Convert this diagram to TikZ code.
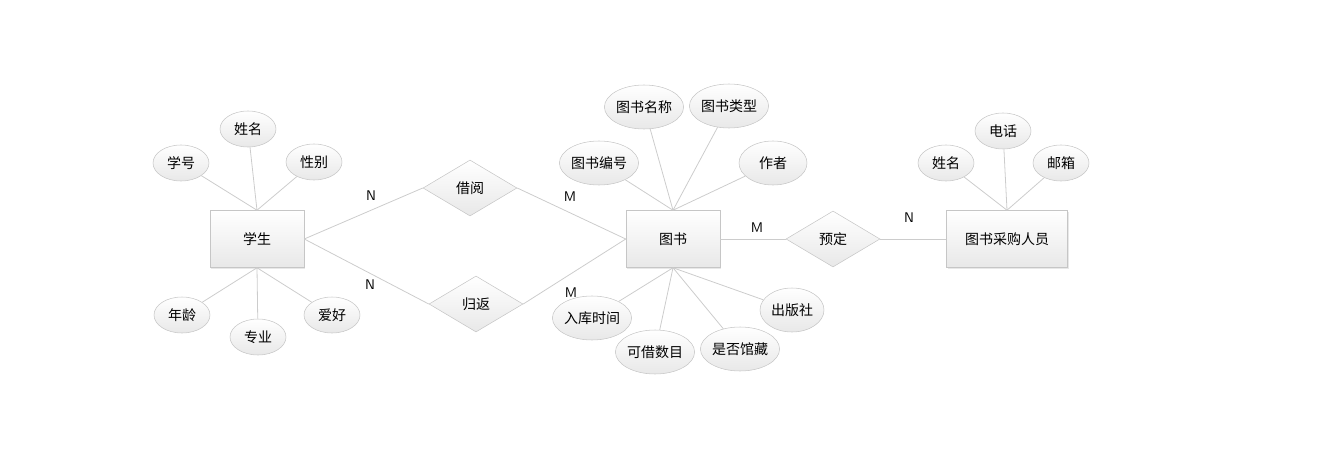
\documentclass[tikz,border=0pt]{standalone}
\usepackage{fontspec}
\setmainfont{Noto Sans CJK SC}
\usetikzlibrary{shapes.geometric,shadows}
\begin{document}
\begin{tikzpicture}[x=0.75pt,y=-0.75pt,font=\fontsize{10.5}{12}\selectfont,
  base/.style={draw=gray!45,top color=white,bottom color=gray!18,inner sep=0pt},
  ent/.style={base,rectangle,minimum width=70.5pt,minimum height=42.75pt,drop shadow={shadow xshift=1pt,shadow yshift=-1pt,fill=gray!35}},
  attr/.style={base,ellipse,minimum width=42pt,minimum height=27pt},
  battr/.style={base,ellipse,minimum width=55.5pt,minimum height=33pt},
  rel/.style={base,diamond,aspect=1.68,minimum width=70.5pt,minimum height=42pt},
  ln/.style={draw=gray!40,line width=0.6pt},
  card/.style={font=\fontsize{10.5}{12}\selectfont\sffamily}]
\useasboundingbox (0,0) rectangle (1337,456);
% student
\node[ent] (stu) at (257,239) {学生};
\node[attr] (xh) at (181,163) {学号};
\node[attr] (xm) at (248,129) {姓名};
\node[attr] (xb) at (314,162) {性别};
\node[attr] (nl) at (182,315) {年龄};
\node[attr] (zy) at (258,337) {专业};
\node[attr] (ah) at (332,315) {爱好};
\foreach \a in {xh,xm,xb} \draw[ln] (\a) -- (stu.north);
\foreach \a in {nl,zy,ah} \draw[ln] (\a) -- (stu.south);
% relations
\node[rel] (jy) at (470,188) {借阅};
\node[rel] (gf) at (476,304) {归返};
% book
\node[ent] (book) at (673,239) {图书};
\node[battr] (mc) at (644,107) {图书名称};
\node[battr] (lx) at (729,106) {图书类型};
\node[battr] (bh) at (599,163) {图书编号};
\node[battr,minimum width=51pt] (zz) at (773,163) {作者};
\node[battr] (rk) at (592,318) {入库时间};
\node[battr] (kj) at (655,352) {可借数目};
\node[battr] (sf) at (740,349) {是否馆藏};
\node[battr,minimum width=48pt] (cb) at (792,310) {出版社};
\foreach \a in {mc,lx,bh,zz} \draw[ln] (\a) -- (book.north);
\foreach \a in {rk,kj,sf,cb} \draw[ln] (\a) -- (book.south);
\node[rel] (yd) at (833,239) {预定};
\node[ent,minimum width=90.75pt] (cg) at (1007,239) {图书采购人员};
\node[attr] (cxm) at (946,163) {姓名};
\node[attr] (dh) at (1003,131) {电话};
\node[attr] (yx) at (1061,163) {邮箱};
\foreach \a in {cxm,dh,yx} \draw[ln] (\a) -- (cg.north);
\draw[ln] (stu.east) -- (jy.west);
\draw[ln] (jy.east) -- (book.west);
\draw[ln] (stu.east) -- (gf.west);
\draw[ln] (gf.east) -- (book.west);
\draw[ln] (book.east) -- (yd.west);
\draw[ln] (yd.east) -- (cg.west);
\node[card] (n1) at (371,196) {N};
\node[card] (m1) at (570,197) {M};
\node[card] (n2) at (370,285) {N};
\node[card] (m2) at (571,293) {M};
\node[card] (m3) at (757,228) {M};
\node[card] (n3) at (909,218) {N};
\end{tikzpicture}
\end{document}
